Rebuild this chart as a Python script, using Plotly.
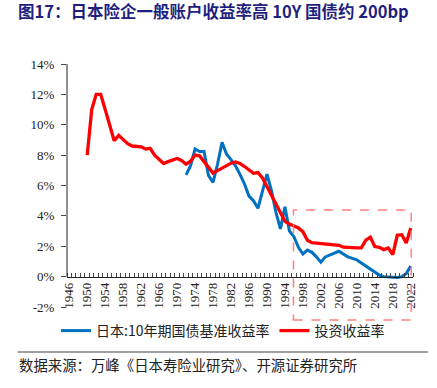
import plotly.graph_objects as go

red_years = list(range(1950, 2023))
red_vals = [8.0, 11.0, 12.0, 12.0, 11.0, 9.9, 8.95, 9.3, 9.0, 8.75,
            8.6, 8.55, 8.55, 8.4, 8.45, 8.0, 7.7, 7.45, 7.57, 7.67,
            7.78, 7.65, 7.4, 7.6, 8.0, 7.95, 7.55, 7.15, 6.82, 6.98,
            7.15, 7.3, 7.47, 7.55, 7.45, 7.25, 7.0, 6.8, 6.85, 6.5,
            5.93, 5.34, 4.74, 4.14, 3.64, 3.47, 3.32, 3.2, 2.96, 2.4,
            2.24, 2.21, 2.19, 2.16, 2.14, 2.11, 2.06, 1.94, 1.91, 1.89,
            1.89, 1.89, 2.4, 2.6, 1.98, 1.93, 1.78, 1.89, 1.45, 2.72,
            2.76, 2.22, 3.2]

blue_years = list(range(1972, 2023))
blue_vals = [6.7, 7.3, 8.4, 8.24, 8.24, 6.64, 6.2, 7.4,
             8.84, 8.07, 7.7, 7.3, 6.73, 6.1, 5.3, 5.0, 4.5, 5.6,
             6.75, 5.66, 4.23, 3.14, 4.6, 3.0, 2.63, 1.93, 1.49, 1.75,
             1.6, 1.3, 0.95, 1.3, 1.45, 1.55, 1.67, 1.47, 1.3, 1.2,
             1.1, 0.9, 0.7, 0.5, 0.3, 0.1, 0.0, -0.02, -0.05, -0.05,
             0.0, 0.2, 0.7]

y_ticks = [-2, 0, 2, 4, 6, 8, 10, 12, 14]
x_label_years = list(range(1946, 2023, 4))

blue_name = "日本:10年期国债基准收益率"
red_name = "投资收益率"
title_text = "图17：日本险企一般账户收益率高 10Y 国债约 200bp"
source_text = "数据来源：万峰《日本寿险业研究》、开源证券研究所"

serif = "Liberation Serif"
cjk = "Noto Sans CJK SC"

fig = go.Figure()
fig.add_trace(go.Scatter(x=blue_years, y=blue_vals, mode="lines", name=blue_name,
                         line=dict(color="#0070C0", width=3)))
fig.add_trace(go.Scatter(x=red_years, y=red_vals, mode="lines", name=red_name,
                         line=dict(color="#FF0000", width=3.3)))

W, H = 437, 388
ml, mr, mt, mb = 66.5, 24, 64, 81
pw = W - ml - mr
ph = H - mt - mb

def px_x(p):
    return (p - ml) / pw

def px_y(p):
    return (H - mb - p) / ph

fig.update_layout(
    width=W, height=H,
    margin=dict(l=ml, r=mr, t=mt, b=mb, autoexpand=False),
    paper_bgcolor="white", plot_bgcolor="white",
    title=dict(text="<b>" + title_text + "</b>", x=18 / W, xanchor="left",
               xref="container", yref="container", y=1 - 12 / H, yanchor="middle",
               font=dict(family=cjk, size=16.5, color="#1F1F80")),
    showlegend=True,
    legend=dict(orientation="h", xref="container", yref="container",
                x=56 / W, y=1 - 331 / H, xanchor="left", yanchor="middle",
                font=dict(family=cjk, size=14, color="#222"),
                bgcolor="rgba(0,0,0,0)", itemwidth=30,
                traceorder="normal"),
    xaxis=dict(range=[1945.5, 2022.5], tickmode="array", tickvals=x_label_years,
               ticktext=[str(v) for v in x_label_years], tickangle=-90,
               ticks="", showgrid=False, zeroline=False, automargin=False,
               showline=True, linecolor="#222", linewidth=1,
               anchor="free", position=2 / 16,
               minor=dict(ticks="inside", tick0=1945.5, dtick=1, ticklen=4,
                          tickcolor="#444", tickwidth=1, showgrid=False),
               tickfont=dict(family=serif, size=13, color="#222")),
    yaxis=dict(range=[-2, 14], tickvals=y_ticks, ticktext=[f"{v}%" for v in y_ticks],
               ticks="outside", ticklen=5, tickcolor="#444", showgrid=False,
               zeroline=False, showline=False, domain=[0, 1], automargin=False,
               ticklabelstandoff=4,
               tickfont=dict(family=serif, size=13, color="#222")),
    shapes=[
        dict(type="line", xref="paper", yref="y", x0=0, x1=0, y0=0, y1=14,
             line=dict(color="#222", width=1)),
        dict(type="rect", xref="x", yref="paper", x0=1995.9, x1=2022.1,
             y0=px_y(320), y1=px_y(210),
             line=dict(color="#FF8080", width=1.5, dash="dash")),
        dict(type="line", xref="paper", yref="paper", x0=px_x(17), x1=px_x(428),
             y0=px_y(352), y1=px_y(352), line=dict(color="#808080", width=1.5)),
    ],
    annotations=[
        dict(text=source_text, xref="paper", yref="paper", x=px_x(16), y=px_y(364),
             xanchor="left", yanchor="middle", showarrow=False,
             font=dict(family=cjk, size=14.4, color="#222")),
    ],
)

fig.write_html("out.html", config={"displayModeBar": False},
               post_script="document.body.style.margin='0px';")
